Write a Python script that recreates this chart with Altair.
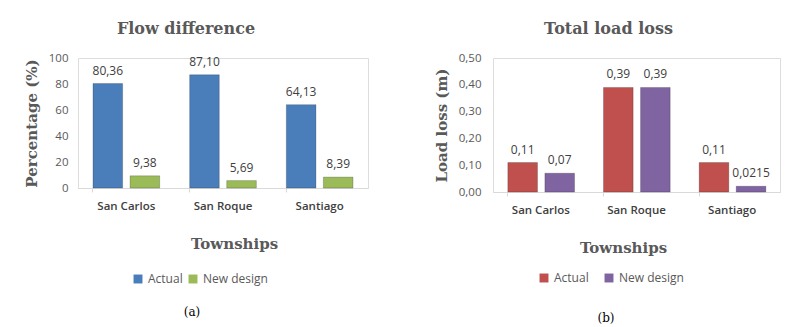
import altair as alt
import pandas as pd

townships = ["San Carlos", "San Roque", "Santiago"]
series = ["Actual", "New design"]

flow_actual = [80.36, 87.10, 64.13]
flow_new = [9.38, 5.69, 8.39]
flow_actual_lbl = ["80,36", "87,10", "64,13"]
flow_new_lbl = ["9,38", "5,69", "8,39"]

loss_actual = [0.11, 0.39, 0.11]
loss_new = [0.07, 0.39, 0.0215]
loss_actual_lbl = ["0,11", "0,39", "0,11"]
loss_new_lbl = ["0,07", "0,39", "0,0215"]


def frame(a, b, la, lb):
    rows = []
    for i, t in enumerate(townships):
        rows.append({"Township": t, "Series": series[0], "value": a[i], "label": la[i]})
        rows.append({"Township": t, "Series": series[1], "value": b[i], "label": lb[i]})
    return pd.DataFrame(rows)


SERIF = "DejaVu Serif"
SANS = "Open Sans"
GRAY = "#595959"


def panel(df, title, ytitle, ymax, ystep, fmt, colors, w, h, cap, lay):
    ticks = [round(i * ystep, 4) for i in range(int(round(ymax / ystep)) + 1)]
    xenc = alt.X("Township:N", sort=townships,
                 scale=alt.Scale(paddingInner=0.31, paddingOuter=0.155),
                 axis=alt.Axis(title="Townships", titleFont=SERIF, titleFontSize=15,
                               titleFontWeight="bold", titleColor=GRAY,
                               titleX=lay["xtx"], titleY=lay["xty"], titleBaseline="middle",
                               labelFont=SANS, labelFontSize=11.5, labelColor="#404040",
                               labelFontWeight=600, labelAngle=0, labelPadding=8,
                               domainColor="#d9d9d9", tickColor="#d9d9d9", tickSize=4,
                               bandPosition=0))
    yscale = alt.Scale(domain=[0, ymax], nice=False)
    yenc = alt.Y("value:Q", scale=yscale,
                 axis=alt.Axis(title=ytitle, titleFont=SERIF, titleFontSize=15,
                               titleFontWeight="bold", titleColor=GRAY, titlePadding=9,
                               labelFont=SANS, labelFontSize=11.5, labelColor=GRAY,
                               labelExpr=f"replace(format(datum.value, '{fmt}'), '.', ',')",
                               values=ticks, tickCount=len(ticks),
                               labelOverlap=False, labelBound=False,
                               domain=False, ticks=False, grid=False, labelPadding=lay["lp"]))
    xoff = alt.XOffset("Series:N", sort=series, scale=alt.Scale(paddingInner=0.2))
    color = alt.Color("Series:N", sort=series,
                      scale=alt.Scale(domain=series, range=colors),
                      legend=alt.Legend(title=None, orient="none", direction="horizontal",
                                        legendX=lay["lx"], legendY=lay["ly"],
                                        symbolType="square", symbolSize=80,
                                        labelFont=SANS, labelFontSize=12, labelColor=GRAY,
                                        symbolStrokeWidth=0, columnPadding=lay["cp"]))
    bars = alt.Chart(df).mark_bar(stroke="#00000040", strokeWidth=0.8).encode(
        x=xenc, y=yenc, xOffset=xoff, color=color)
    text = alt.Chart(df).mark_text(dy=-13, font=SANS, fontSize=12, color="#404040").encode(
        x=xenc, y=yenc, xOffset=xoff, text="label:N")
    capt = alt.Chart(pd.DataFrame({"c": [cap]})).mark_text(
        font=SERIF, fontSize=12, color="#000000").encode(
        x=alt.value(lay["cx"]), y=alt.value(lay["cy"]), text="c:N")
    return alt.layer(bars, text, capt).properties(
        width=w, height=h,
        title=alt.TitleParams(title, font=SERIF, fontSize=16, fontWeight="bold",
                              color=GRAY, offset=15, dx=lay["tdx"]))


flow = panel(frame(flow_actual, flow_new, flow_actual_lbl, flow_new_lbl),
             "Flow difference", "Percentage (%)", 100, 20, "d",
             ["#4a7ebb", "#9bbb59"], 290, 130, "(a)",
             {"xtx": 156, "xty": 55, "lp": 10, "lx": 54, "ly": 215, "cp": 4,
              "cx": 114, "cy": 254, "tdx": -37})
loss = panel(frame(loss_actual, loss_new, loss_actual_lbl, loss_new_lbl),
             "Total load loss", "Load loss (m)", 0.5, 0.1, ".2f",
             ["#c0504d", "#8064a2"], 287, 134, "(b)",
             {"xtx": 130, "xty": 55, "lp": 12, "lx": 45, "ly": 214, "cp": 14,
              "cx": 113, "cy": 260, "tdx": -28})

chart = alt.hconcat(flow, loss, spacing=64).resolve_scale(color="independent").properties(
    padding={"left": 15, "top": 12, "right": 5, "bottom": 5}
).configure_view(stroke=None).configure_axis(labelOverlap=False).configure(background="white")

chart.save("out.html", embed_options={"renderer": "svg", "actions": False})
